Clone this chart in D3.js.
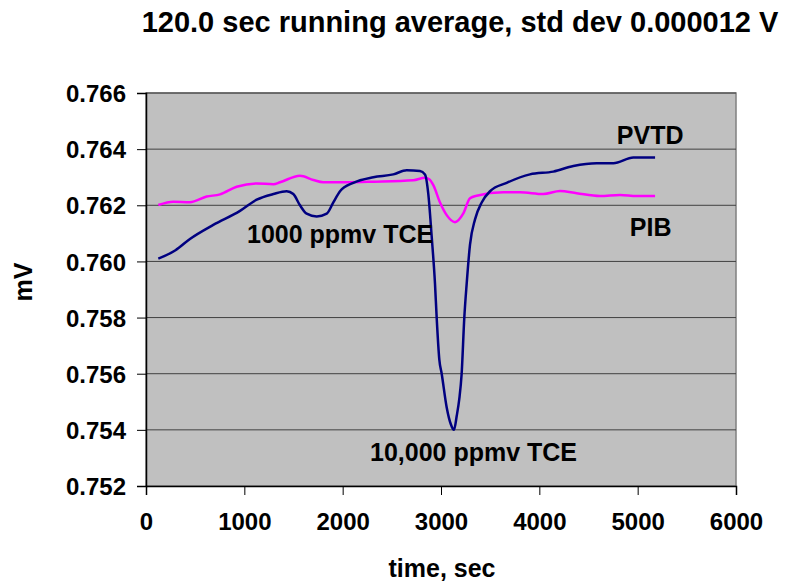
<!DOCTYPE html>
<html><head><meta charset="utf-8">
<script src="https://cdn.jsdelivr.net/npm/d3@7"></script>
<style>body{margin:0;background:#fff}svg{display:block}text{font-family:"Liberation Sans",Arial,sans-serif;font-weight:bold;fill:#000}</style>
</head><body>
<script>
const title = "120.0 sec running average, std dev 0.000012 V";
const xLabel = "time, sec";
const yLabel = "mV";
const xTicks = [0,1000,2000,3000,4000,5000,6000];
const yTicks = [0.752,0.754,0.756,0.758,0.760,0.762,0.764,0.766];
const pvtdT = [125,300,447,684,956,1126,1295,1431,1498,1566,1634,1736,1838,1905,1973,2108,2312,2515,2651,2786,2837,2871,2905,2939,2956,2983,3007,3058,3100,3132,3160,3186,3210,3237,3261,3295,3346,3414,3498,3668,3905,4142,4346,4583,4753,4956,5177];
const pvtdV = [0.7601,0.7604,0.7608,0.7613,0.7618,0.7622,0.7624,0.7625,0.7624,0.7620,0.7617,0.7616,0.7617,0.7621,0.7625,0.7628,0.7630,0.7631,0.76325,0.76322,0.7631,0.7624,0.7609,0.7592,0.7580,0.7565,0.7560,0.7548,0.7542,0.7540,0.7545,0.7551,0.7560,0.7580,0.7592,0.7606,0.7615,0.7621,0.7625,0.7628,0.7631,0.7632,0.7634,0.7635,0.7635,0.7637,0.7637];
const pibT = [125,278,447,617,753,922,1126,1295,1363,1566,1702,1803,2041,2312,2719,2837,2880,2922,2990,3058,3142,3227,3295,3363,3634,3803,4041,4210,4380,4617,4820,4990,5177];
const pibV = [0.76201,0.76213,0.76211,0.76231,0.76239,0.76266,0.76278,0.76275,0.76282,0.76305,0.7629,0.76282,0.76282,0.76284,0.76289,0.76298,0.76293,0.76272,0.7621,0.76165,0.7614,0.76171,0.76225,0.76234,0.76246,0.76246,0.7624,0.76251,0.76243,0.76233,0.76237,0.76233,0.76233];
const annotations = [
  {text:"PVTD", t:4788, v:0.76419},
  {text:"PIB", t:4920, v:0.76092},
  {text:"1000 ppmv TCE", t:1027, v:0.76065},
  {text:"10,000 ppmv TCE", t:2278, v:0.75290}
];

const W=790,H=586;
const L=146,R=736,T=93,B=486;
const svg=d3.select("body").append("svg").attr("width",W).attr("height",H);
const x=d3.scaleLinear().domain([0,6000]).range([L,R]);
const y=d3.scaleLinear().domain([0.752,0.766]).range([B,T]);

svg.append("rect").attr("x",L).attr("y",T).attr("width",R-L).attr("height",B-T).attr("fill","#c0c0c0").attr("stroke","#808080").attr("stroke-width",1.5);

svg.append("g").selectAll("line").data(yTicks.slice(1)).join("line")
  .attr("x1",L).attr("x2",R).attr("y1",d=>y(d)).attr("y2",d=>y(d))
  .attr("stroke","#404040").attr("stroke-width",1);

const yAxis=svg.append("g").attr("transform",`translate(${L},0)`)
  .call(d3.axisLeft(y).tickValues(yTicks).tickFormat(d3.format(".3f")).tickSize(9).tickPadding(11));
const xAxis=svg.append("g").attr("transform",`translate(0,${B})`)
  .call(d3.axisBottom(x).tickValues(xTicks).tickFormat(d3.format("d")).tickSize(9).tickPadding(12));
[yAxis,xAxis].forEach(a=>{
  a.selectAll("path").attr("stroke","#000").attr("stroke-width",1.5);
  a.selectAll("line").attr("stroke","#000");
  a.selectAll("text").style("font-size","24px").style("font-weight","bold").attr("fill","#000");
});
yAxis.selectAll("text").attr("dy","0.36em");
xAxis.selectAll("text").attr("dy","0.95em");

const line=d3.line().x(d=>x(d[0])).y(d=>y(d[1])).curve(d3.curveMonotoneX);
svg.append("path").datum(pibT.map((t,i)=>[t,pibV[i]])).attr("d",line)
  .attr("fill","none").attr("stroke","#ff00ff").attr("stroke-width",2.5);
svg.append("path").datum(pvtdT.map((t,i)=>[t,pvtdV[i]])).attr("d",line)
  .attr("fill","none").attr("stroke","#000080").attr("stroke-width",2.5);

svg.append("g").selectAll("text").data(annotations).join("text")
  .attr("x",d=>x(d.t)).attr("y",d=>y(d.v)).style("font-size","25px").text(d=>d.text);

svg.append("text").attr("x",460).attr("y",32).attr("text-anchor","middle").style("font-size","29px").text(title);
svg.append("text").attr("x",442).attr("y",577).attr("text-anchor","middle").style("font-size","25px").text(xLabel);
svg.append("text").attr("transform","translate(32,282) rotate(-90)").attr("text-anchor","middle").style("font-size","25px").text(yLabel);
</script>
</body></html>
